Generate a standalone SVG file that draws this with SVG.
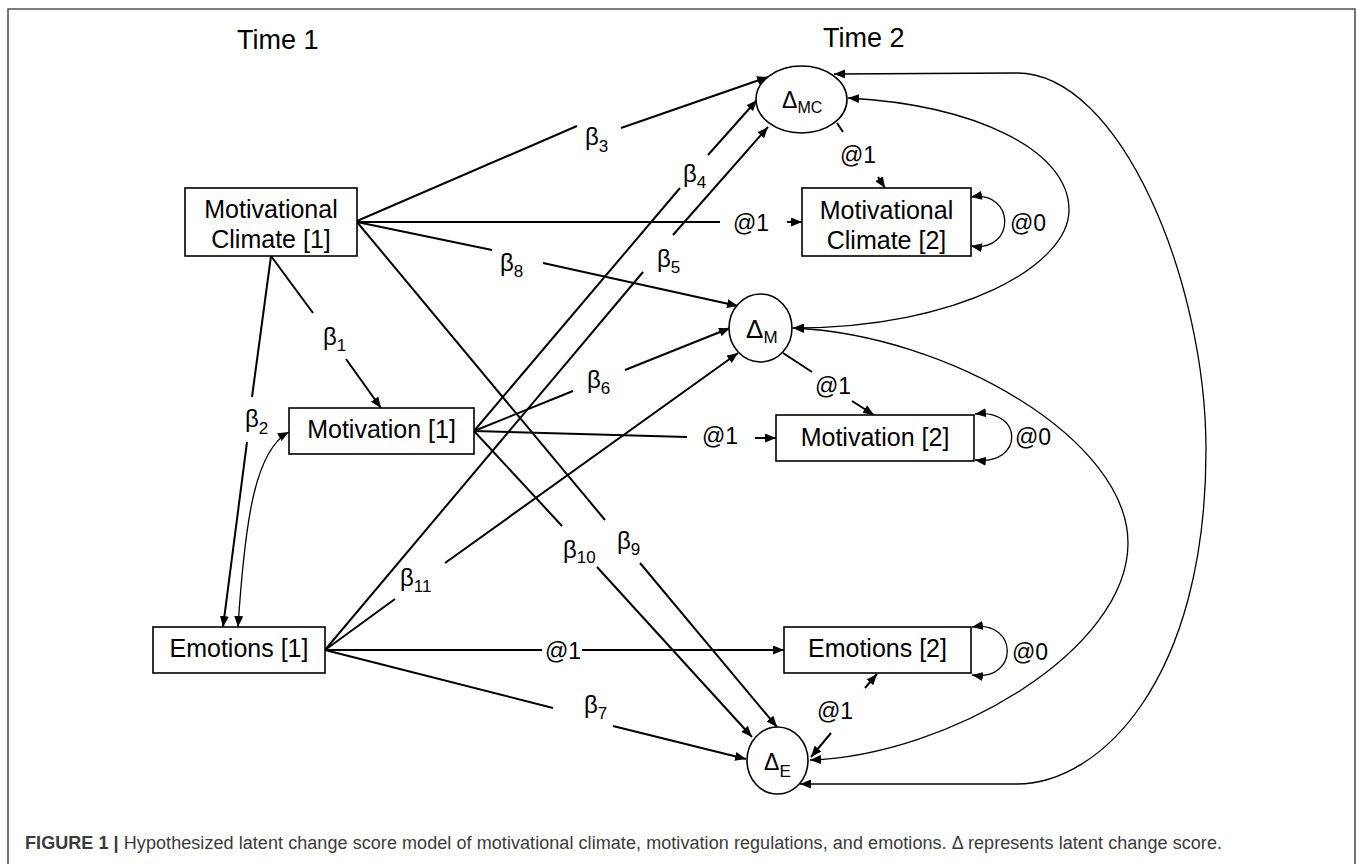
<svg xmlns="http://www.w3.org/2000/svg" width="1357" height="864" viewBox="0 0 1357 864">
<style>
.frame{fill:none;stroke:#555;stroke-width:1.6}
.box{fill:#fff;stroke:#000;stroke-width:1.6}
.t{font-family:"Liberation Sans",Arial,sans-serif;fill:#000}
.lbl{font-size:25px;text-anchor:middle}
.hdr{font-size:27px}
.b{font-size:24px}
.s{font-size:17px}
.at{font-size:23px}
.c{fill:none;stroke:#000;stroke-width:2}
.cv{fill:none;stroke:#000;stroke-width:1.3}
.cap{font-family:"Liberation Sans",Arial,sans-serif;font-size:18px;fill:#3a3a3a}
</style>
<defs>
<marker id="a" viewBox="0 0 11 9" refX="11" refY="4.5" markerWidth="11" markerHeight="9" markerUnits="userSpaceOnUse" orient="auto-start-reverse"><path d="M0,0L11,4.5L0,9z" fill="#000"/></marker>
</defs>
<rect width="1357" height="864" fill="#fff"/>
<path class="frame" d="M8,864V9H1355V864"/>
<text class="t hdr" x="237" y="49">Time 1</text>
<text class="t hdr" x="823" y="47">Time 2</text>

<g id="edges">
<path class="c" d="M357,221L577,126"/>
<path class="c" d="M621,128L768,77" marker-end="url(#a)"/>
<text class="t b" x="585" y="145">β<tspan class="s" dy="7">3</tspan></text>
<path class="c" d="M357,222L720,222"/>
<text class="t at" x="733" y="231">@1</text>
<path class="c" d="M787,222L802,222" marker-end="url(#a)"/>
<path class="c" d="M357,222L492,250"/>
<path class="c" d="M543,263L738,306" marker-end="url(#a)"/>
<text class="t b" x="500" y="271">β<tspan class="s" dy="6">8</tspan></text>
<path class="c" d="M271,256L313,313"/>
<path class="c" d="M346,359L381,408" marker-end="url(#a)"/>
<text class="t b" x="323" y="345">β<tspan class="s" dy="6">1</tspan></text>
<path class="c" d="M271,256L252,397"/>
<path class="c" d="M247,442L223,627" marker-end="url(#a)"/>
<text class="t b" x="245" y="427">β<tspan class="s" dy="7">2</tspan></text>
<path class="cv" d="M238,627C245,520 255,450 289,432" marker-start="url(#a)" marker-end="url(#a)"/>
<path class="c" d="M357,222L605,520"/>
<path class="c" d="M640,563L777,727" marker-end="url(#a)"/>
<text class="t b" x="617" y="549">β<tspan class="s" dy="6">9</tspan></text>
<path class="c" d="M474,431L562,526"/>
<path class="c" d="M597,567L752,737" marker-end="url(#a)"/>
<text class="t b" x="563" y="558">β<tspan class="s" dy="5">10</tspan></text>
<path class="c" d="M325,650L553,708"/>
<path class="c" d="M613,726L746,759" marker-end="url(#a)"/>
<text class="t b" x="584" y="713">β<tspan class="s" dy="6">7</tspan></text>
<path class="c" d="M325,650L542,650"/>
<text class="t at" x="545" y="659">@1</text>
<path class="c" d="M582,650L784,650" marker-end="url(#a)"/>
<path class="c" d="M474,431L680,188"/>
<path class="c" d="M708,155L757,100" marker-end="url(#a)"/>
<text class="t b" x="683" y="182">β<tspan class="s" dy="6">4</tspan></text>
<path class="c" d="M325,650L643,272"/>
<path class="c" d="M673,235L768,127" marker-end="url(#a)"/>
<text class="t b" x="657" y="267">β<tspan class="s" dy="6">5</tspan></text>
<path class="c" d="M474,431L573,391"/>
<path class="c" d="M625,370L730,328" marker-end="url(#a)"/>
<text class="t b" x="587" y="388">β<tspan class="s" dy="6">6</tspan></text>
<path class="c" d="M325,650L395,599"/>
<path class="c" d="M445,563L738,353" marker-end="url(#a)"/>
<text class="t b" x="400" y="586">β<tspan class="s" dy="6">11</tspan></text>
<path class="c" d="M474,431L687,437"/>
<text class="t at" x="702" y="444">@1</text>
<path class="c" d="M755,438L776,438" marker-end="url(#a)"/>
<path class="c" d="M837,123L843,132"/>
<text class="t at" x="840" y="163">@1</text>
<path class="c" d="M878,177L885,188" marker-end="url(#a)"/>
<path class="c" d="M783,353L812,372"/>
<text class="t at" x="815" y="394">@1</text>
<path class="c" d="M852,401L874,415" marker-end="url(#a)"/>
<path class="c" d="M831,733L811,757" marker-end="url(#a)"/>
<text class="t at" x="817" y="719">@1</text>
<path class="c" d="M865,688L877,674" marker-end="url(#a)"/>
<path class="cv" d="M971,197C1016,190 1016,253 971,246" marker-start="url(#a)" marker-end="url(#a)"/>
<text class="t at" x="1010" y="231">@0</text>
<path class="cv" d="M975,414C1024,408 1024,466 975,460" marker-start="url(#a)" marker-end="url(#a)"/>
<text class="t at" x="1015" y="445">@0</text>
<path class="cv" d="M972,627C1019,620 1019,682 972,675" marker-start="url(#a)" marker-end="url(#a)"/>
<text class="t at" x="1012" y="660">@0</text>
<path class="cv" d="M848,98C975,105 1069,150 1069,210C1069,265 960,328 793,328" marker-start="url(#a)" marker-end="url(#a)"/>
<path class="cv" d="M793,328C950,335 1128,440 1128,543C1128,650 950,755 810,760" marker-start="url(#a)" marker-end="url(#a)"/>
<path class="cv" d="M834,74L1017,73C1120,73 1206,280 1206,450C1206,680 1100,784 1017,784L800,784" marker-start="url(#a)" marker-end="url(#a)"/>
</g>

<g id="n-mc1">
<rect class="box" x="185" y="188" width="172" height="68"/>
<text class="t lbl" x="271" y="218">Motivational</text>
<text class="t lbl" x="271" y="248">Climate [1]</text>
</g>
<g id="n-mot1">
<rect class="box" x="289" y="408" width="185" height="46"/>
<text class="t lbl" x="381.5" y="438">Motivation [1]</text>
</g>
<g id="n-emo1">
<rect class="box" x="153" y="627" width="172" height="46"/>
<text class="t lbl" x="239" y="657">Emotions [1]</text>
</g>
<g id="n-mc2">
<rect class="box" x="802" y="188" width="169" height="68"/>
<text class="t lbl" x="886.5" y="219">Motivational</text>
<text class="t lbl" x="886.5" y="249">Climate [2]</text>
</g>
<g id="n-mot2">
<rect class="box" x="776" y="415" width="198" height="46"/>
<text class="t lbl" x="875" y="446">Motivation [2]</text>
</g>
<g id="n-emo2">
<rect class="box" x="784" y="627" width="187" height="46"/>
<text class="t lbl" x="877.5" y="657">Emotions [2]</text>
</g>
<g id="n-dmc">
<ellipse class="box" cx="801.5" cy="99.5" rx="45.5" ry="33.5"/>
<text class="t" x="782" y="108" font-size="23">Δ<tspan font-size="16" dy="5">MC</tspan></text>
</g>
<g id="n-dm">
<ellipse class="box" cx="760.5" cy="328" rx="31.5" ry="34"/>
<text class="t" x="746" y="338" font-size="26">Δ<tspan font-size="17" dy="5">M</tspan></text>
</g>
<g id="n-de">
<ellipse class="box" cx="777.5" cy="760.5" rx="30.5" ry="33.5"/>
<text class="t" x="764" y="770" font-size="23">Δ<tspan font-size="17" dy="7">E</tspan></text>
</g>

<text class="cap" x="25" y="849" textLength="1197" lengthAdjust="spacing"><tspan font-weight="bold">FIGURE 1 |</tspan> Hypothesized latent change score model of motivational climate, motivation regulations, and emotions. Δ represents latent change score.</text>
</svg>
